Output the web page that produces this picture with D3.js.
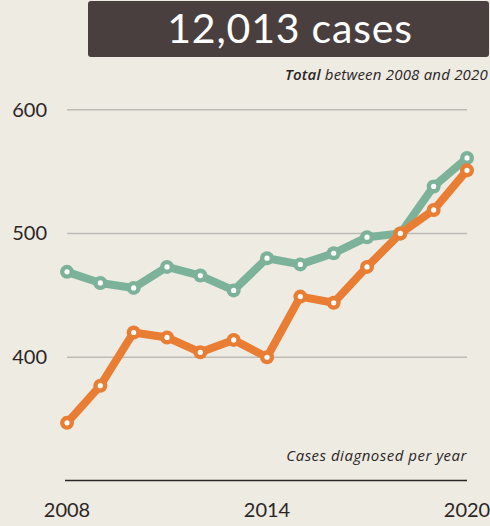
<!DOCTYPE html>
<html>
<head>
<meta charset="utf-8">
<script src="https://cdn.jsdelivr.net/npm/d3@7"></script>
<style>
  html, body { margin: 0; padding: 0; background: #eeebe3; }
  svg { display: block; font-family: Lato, "Noto Sans", sans-serif; }
  .note { font-family: "Open Sans", "Noto Sans", sans-serif; }
</style>
</head>
<body>
<div id="chart"></div>
<script>
var years = [2008, 2009, 2010, 2011, 2012, 2013, 2014, 2015, 2016, 2017, 2018, 2019, 2020];
var greenValues = [469, 460, 456, 473, 466, 454, 480, 475, 484, 497, 500, 538, 561];
var orangeValues = [347, 377, 420, 416, 404, 414, 400, 449, 444, 473, 500, 519, 551];
var yTicks = [400, 500, 600];
var xTicks = [2008, 2014, 2020];
var totalLabel = "12,013 cases";

var width = 490, height = 526;

var svg = d3.select('#chart')
    .append('svg')
    .attr('width', width)
    .attr('height', height);

svg.append('rect')
    .attr('width', width)
    .attr('height', height)
    .attr('fill', '#eeebe3');

// header box
svg.append('rect')
    .attr('x', 88)
    .attr('y', 1)
    .attr('width', 401)
    .attr('height', 56)
    .attr('rx', 3)
    .attr('fill', '#4a3f3f');

svg.append('text')
    .attr('x', 290)
    .attr('y', 43)
    .attr('text-anchor', 'middle')
    .attr('fill', '#fff')
    .attr('font-size', 41)
    .attr('letter-spacing', 0.8)
    .text(totalLabel);

var sub = svg.append('text')
    .attr('class', 'note')
    .attr('x', 488)
    .attr('y', 80)
    .attr('text-anchor', 'end')
    .attr('fill', '#2b2626')
    .attr('font-size', 15)
    .attr('letter-spacing', 0.2)
    .attr('font-style', 'italic');
sub.append('tspan').attr('font-weight', 600).text('Total');
sub.append('tspan').text(' between 2008 and 2020');

var x = d3.scaleLinear().domain([2008, 2020]).range([67, 467]);
var y = d3.scaleLinear().domain([300, 600]).range([481, 109.7]);

// gridlines
svg.append('g')
    .selectAll('line')
    .data(yTicks)
    .join('line')
    .attr('x1', 67)
    .attr('x2', 467)
    .attr('y1', d => y(d))
    .attr('y2', d => y(d))
    .attr('stroke', '#bdbbb6')
    .attr('stroke-width', 1.5);

svg.append('g')
    .selectAll('text')
    .data(yTicks)
    .join('text')
    .attr('x', 47)
    .attr('y', d => y(d) + 7)
    .attr('text-anchor', 'end')
    .attr('fill', '#2b2626')
    .attr('font-size', 20)
    .text(d => d);

// baseline
svg.append('line')
    .attr('x1', 65)
    .attr('x2', 467)
    .attr('y1', 480.5)
    .attr('y2', 480.5)
    .attr('stroke', '#2b2626')
    .attr('stroke-width', 1.3);

svg.append('g')
    .selectAll('text')
    .data(xTicks)
    .join('text')
    .attr('x', d => x(d))
    .attr('y', 517)
    .attr('text-anchor', 'middle')
    .attr('fill', '#2b2626')
    .attr('font-size', 20)
    .text(d => d);

svg.append('text')
    .attr('class', 'note')
    .attr('x', 467)
    .attr('y', 461)
    .attr('text-anchor', 'end')
    .attr('fill', '#2b2626')
    .attr('font-size', 15)
    .attr('letter-spacing', 0.5)
    .attr('font-style', 'italic')
    .text('Cases diagnosed per year');

var line = d3.line()
    .x((d, i) => x(years[i]))
    .y(d => y(d));

function drawSeries(values, color) {
    var g = svg.append('g');
    g.append('path')
        .datum(values)
        .attr('d', line)
        .attr('fill', 'none')
        .attr('stroke', color)
        .attr('stroke-width', 8)
        .attr('stroke-linejoin', 'round')
        .attr('stroke-linecap', 'round');
    g.selectAll('circle.dot')
        .data(values)
        .join('circle')
        .attr('class', 'dot')
        .attr('cx', (d, i) => x(years[i]))
        .attr('cy', d => y(d))
        .attr('r', 7)
        .attr('fill', color);
    g.selectAll('circle.inner')
        .data(values)
        .join('circle')
        .attr('class', 'inner')
        .attr('cx', (d, i) => x(years[i]))
        .attr('cy', d => y(d))
        .attr('r', 2.6)
        .attr('fill', '#fff');
}

drawSeries(greenValues, '#7db29a');
drawSeries(orangeValues, '#e87d33');
</script>
</body>
</html>
